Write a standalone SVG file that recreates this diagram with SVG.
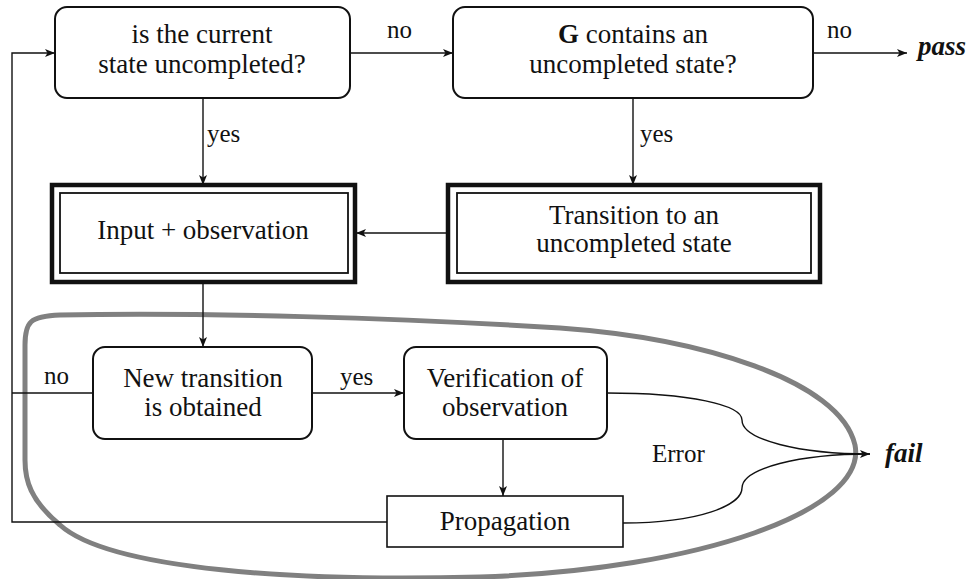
<svg xmlns="http://www.w3.org/2000/svg" width="967" height="579" viewBox="0 0 967 579" font-family="'Liberation Serif', 'DejaVu Serif', serif">
<style>
text{font-family:'Liberation Serif','DejaVu Serif',serif;fill:#111;}
.t{font-size:27px;text-anchor:middle;}
.l{font-size:25px;}
.bi{font-size:27px;font-weight:bold;font-style:italic;}
.rb{fill:#fff;stroke:#111;stroke-width:2;}
.outer{fill:#fff;stroke:#111;stroke-width:4.5;}
.inner{fill:none;stroke:#111;stroke-width:1.8;}
.c{fill:none;stroke:#111;stroke-width:1.4;}
.loop{fill:none;stroke:#808080;stroke-width:5;}
</style>
<defs>
<marker id="a" viewBox="0 0 10 8" refX="10" refY="4" markerWidth="10" markerHeight="8" markerUnits="userSpaceOnUse" orient="auto">
<path d="M0,0 L10,4 L0,8 L2.5,4 Z" fill="#111"/>
</marker>
</defs>
<g id="loop">
<path class="loop" d="M 25,345 C 25,322 30,316 60,315 C 200,312 400,318 560,328 C 700,338 840,380 855,445 C 868,510 700,570 480,577 C 300,582 110,570 60,525 C 30,500 25,480 25,460 Z"/>
</g>
<g id="connectors">
<path class="c" d="M 350,53 H 453" marker-end="url(#a)"/>
<path class="c" d="M 813,53 H 907" marker-end="url(#a)"/>
<path class="c" d="M 203,98 V 185" marker-end="url(#a)"/>
<path class="c" d="M 633,98 V 185" marker-end="url(#a)"/>
<path class="c" d="M 448,233 H 356" marker-end="url(#a)"/>
<path class="c" d="M 203,282 V 347" marker-end="url(#a)"/>
<path class="c" d="M 312,393 H 404" marker-end="url(#a)"/>
<path class="c" d="M 503,439 V 496" marker-end="url(#a)"/>
<path class="c" d="M 93,393 H 12"/>
<path class="c" d="M 387,522 H 12 V 53 H 55" marker-end="url(#a)"/>
<path class="c" d="M 607,393 C 690,393 742,405 742,420 C 742,440 800,454 870,454" marker-end="url(#a)"/>
<path class="c" d="M 623,523 C 700,523 742,505 742,488 C 742,468 800,454 870,454"/>
<text class="l" x="387" y="38">no</text>
<text class="l" x="827" y="38">no</text>
<text class="l" x="207" y="142">yes</text>
<text class="l" x="640" y="142">yes</text>
<text class="l" x="340" y="385">yes</text>
<text class="l" x="44" y="384">no</text>
<text class="l" x="652" y="462">Error</text>
<text class="bi" x="918" y="55">pass</text>
<text class="bi" x="885" y="462">fail</text>
</g>
<g id="n1">
<rect class="rb" x="55" y="7" width="295" height="91" rx="12"/>
<text class="t" x="202" y="43">is the current</text>
<text class="t" x="202" y="73">state uncompleted?</text>
</g>
<g id="n2">
<rect class="rb" x="453" y="7" width="360" height="91" rx="12"/>
<text class="t" x="633" y="43"><tspan font-weight="bold">G</tspan> contains an</text>
<text class="t" x="633" y="73">uncompleted state?</text>
</g>
<g id="n3">
<rect class="outer" x="52" y="185" width="303" height="97"/>
<rect class="inner" x="60" y="193" width="288" height="80"/>
<text class="t" x="203" y="239">Input + observation</text>
</g>
<g id="n4">
<rect class="outer" x="448" y="185" width="372" height="97"/>
<rect class="inner" x="457" y="193" width="354" height="80"/>
<text class="t" x="634" y="224">Transition to an</text>
<text class="t" x="634" y="252">uncompleted state</text>
</g>
<g id="n5">
<rect class="rb" x="93" y="347" width="219" height="92" rx="12"/>
<text class="t" x="203" y="387">New transition</text>
<text class="t" x="203" y="416">is obtained</text>
</g>
<g id="n6">
<rect class="rb" x="404" y="347" width="203" height="92" rx="12"/>
<text class="t" x="505" y="387">Verification of</text>
<text class="t" x="505" y="416">observation</text>
</g>
<g id="n7">
<rect class="rb" x="387" y="496" width="236" height="51" style="stroke-width:1.6"/>
<text class="t" x="505" y="530">Propagation</text>
</g>
</svg>
